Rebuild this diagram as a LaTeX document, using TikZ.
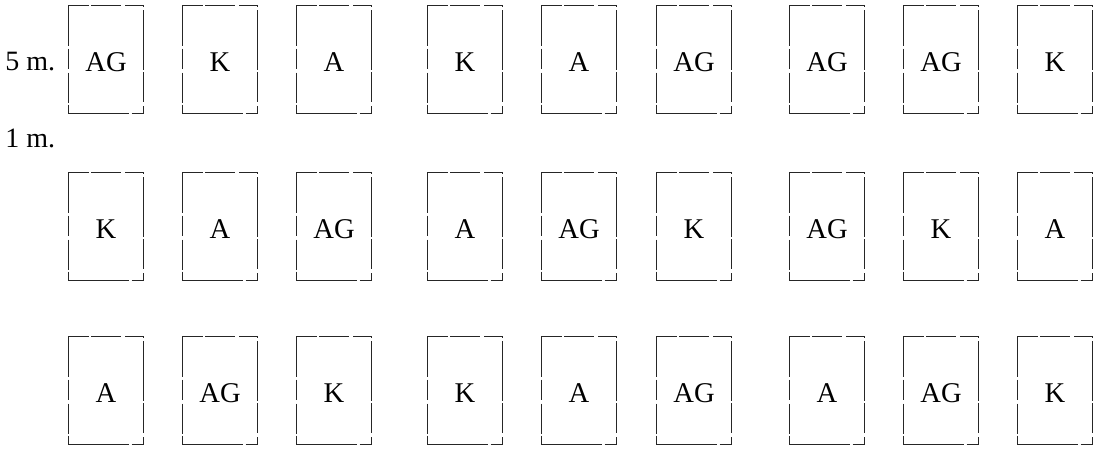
\documentclass[tikz,border=0pt]{standalone}
\usepackage{fontspec}
\setmainfont{Liberation Serif}
\newcommand\lowtxt[1]{\raisebox{-1.5pt}[\height][\depth]{#1}}
\begin{document}
\begin{tikzpicture}[x=0.5pt,y=-0.5pt,
  cell/.style={draw=black!85, line width=0.55pt, dash pattern=on 30pt off 1.5pt on 10pt off 2pt on 15pt off 1pt,
    minimum width=37.5pt, minimum height=54pt, inner sep=0pt, anchor=north west,
    font=\fontsize{14.3}{16}\selectfont},
  lbl/.style={anchor=west, inner sep=0pt, font=\fontsize{14}{16}\selectfont}]
\useasboundingbox (0,0) rectangle (1100,451);
% row 1
\node[cell] (r1c1) at (68,5) {\lowtxt{AG}};
\node[cell] (r1c2) at (182,5) {\lowtxt{K}};
\node[cell] (r1c3) at (296,5) {\lowtxt{A}};
\node[cell] (r1c4) at (427,5) {\lowtxt{K}};
\node[cell] (r1c5) at (541,5) {\lowtxt{A}};
\node[cell] (r1c6) at (656,5) {\lowtxt{AG}};
\node[cell] (r1c7) at (789,5) {\lowtxt{AG}};
\node[cell] (r1c8) at (903,5) {\lowtxt{AG}};
\node[cell] (r1c9) at (1017,5) {\lowtxt{K}};
% row 2
\node[cell] (r2c1) at (68,172) {\lowtxt{K}};
\node[cell] (r2c2) at (182,172) {\lowtxt{A}};
\node[cell] (r2c3) at (296,172) {\lowtxt{AG}};
\node[cell] (r2c4) at (427,172) {\lowtxt{A}};
\node[cell] (r2c5) at (541,172) {\lowtxt{AG}};
\node[cell] (r2c6) at (656,172) {\lowtxt{K}};
\node[cell] (r2c7) at (789,172) {\lowtxt{AG}};
\node[cell] (r2c8) at (903,172) {\lowtxt{K}};
\node[cell] (r2c9) at (1017,172) {\lowtxt{A}};
% row 3
\node[cell] (r3c1) at (68,336) {\lowtxt{A}};
\node[cell] (r3c2) at (182,336) {\lowtxt{AG}};
\node[cell] (r3c3) at (296,336) {\lowtxt{K}};
\node[cell] (r3c4) at (427,336) {\lowtxt{K}};
\node[cell] (r3c5) at (541,336) {\lowtxt{A}};
\node[cell] (r3c6) at (656,336) {\lowtxt{AG}};
\node[cell] (r3c7) at (789,336) {\lowtxt{A}};
\node[cell] (r3c8) at (903,336) {\lowtxt{AG}};
\node[cell] (r3c9) at (1017,336) {\lowtxt{K}};
% labels
\node[lbl] (l5) at (5,62) {5 m.};
\node[lbl] (l1) at (5,138) {1 m.};
\end{tikzpicture}
\end{document}
